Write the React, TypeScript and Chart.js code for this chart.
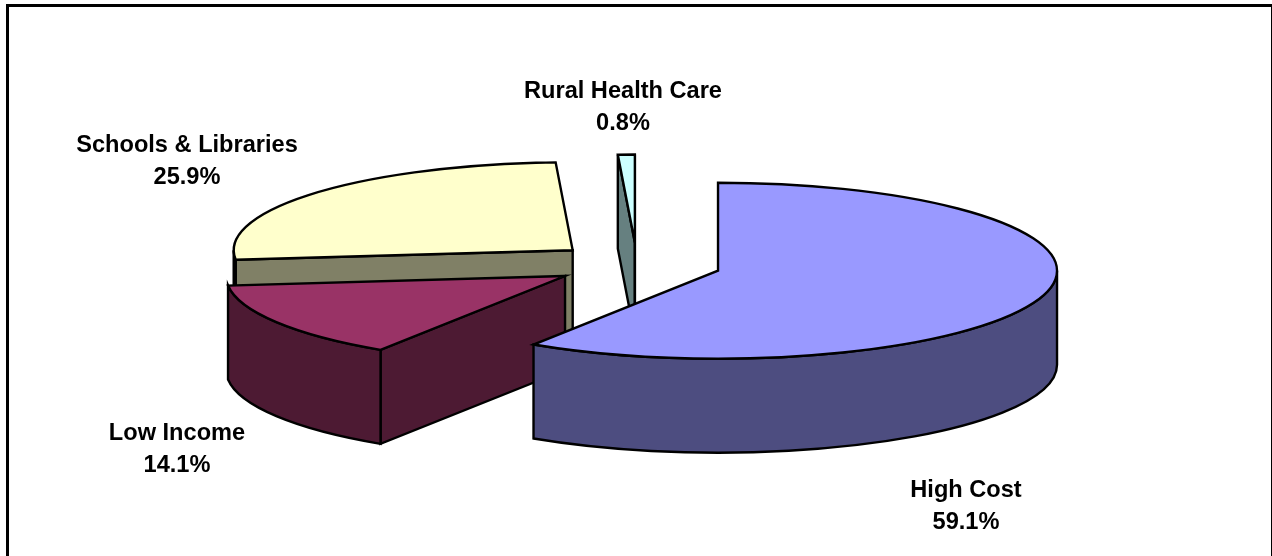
import React, { useEffect, useRef } from "react";
import { Chart, registerables } from "chart.js";

Chart.register(...registerables);

const categories = ["High Cost", "Low Income", "Schools & Libraries", "Rural Health Care"];
const shares = [59.1, 14.1, 25.9, 0.8];
const topColors = ["#9999FF", "#993366", "#FFFFCC", "#CCFFFF"];
const wallColors = ["#4D4D80", "#4D1A33", "#808066", "#668080"];
const paintOrder = [3, 2, 1, 0];
const labelCenters = [
  [966, 490],
  [177, 433],
  [187, 145.5],
  [623, 91],
];

const SLICE_RADIUS = 339;
const EXPLODE = 84.5;
const TILT = 88 / 339;
const DEPTH = 94;
const CENTER_Y = 264.5;
const LINE_WIDTH = 2.4;

const pie3d = {
  id: "pie3d",
  beforeDatasetDraw(chart: any) {
    const ctx: CanvasRenderingContext2D = chart.ctx;
    const arcs = chart.getDatasetMeta(0).data;
    for (const i of paintOrder) {
      const arc = arcs[i];
      const { x, y, startAngle: s, endAngle: e, outerRadius: r } = arc.getProps(
        ["x", "y", "startAngle", "endAngle", "outerRadius"],
        true
      );
      const mid = (s + e) / 2;
      const dx = Math.cos(mid) * EXPLODE;
      const dy = Math.sin(mid) * EXPLODE;
      const cx = x + dx;
      const cy = CENTER_Y + dy * TILT;
      const rx = r;
      const ry = r * TILT;
      const rim = (a: number) => [cx + rx * Math.cos(a), cy + ry * Math.sin(a)];

      ctx.save();
      ctx.lineWidth = LINE_WIDTH;
      ctx.lineJoin = "miter";
      ctx.strokeStyle = "#000";
      ctx.fillStyle = wallColors[i];

      const wall = (a: number) => {
        const [px, py] = rim(a);
        ctx.beginPath();
        ctx.moveTo(cx, cy);
        ctx.lineTo(px, py);
        ctx.lineTo(px, py + DEPTH);
        ctx.lineTo(cx, cy + DEPTH);
        ctx.closePath();
        ctx.fill();
        ctx.stroke();
      };
      if (Math.cos(s) < 0) wall(s);
      if (Math.cos(e) > 0) wall(e);

      const from = Math.max(s, 0);
      const to = Math.min(e, Math.PI);
      if (to > from) {
        const [ax, ay] = rim(from);
        const [bx, by] = rim(to);
        ctx.beginPath();
        ctx.moveTo(ax, ay);
        ctx.ellipse(cx, cy, rx, ry, 0, from, to);
        ctx.lineTo(bx, by + DEPTH);
        ctx.ellipse(cx, cy + DEPTH, rx, ry, 0, to, from, true);
        ctx.closePath();
        ctx.fill();
        ctx.stroke();
      }
      ctx.restore();

      ctx.save();
      ctx.translate(dx, CENTER_Y + dy * TILT);
      ctx.scale(1, TILT);
      ctx.translate(0, -y);
      arc.draw(ctx);
      ctx.restore();

      ctx.save();
      ctx.lineWidth = LINE_WIDTH;
      ctx.strokeStyle = "#000";
      ctx.beginPath();
      ctx.moveTo(cx, cy);
      ctx.ellipse(cx, cy, rx, ry, 0, s, e);
      ctx.closePath();
      ctx.stroke();
      ctx.restore();
    }
    return false;
  },
  afterDraw(chart: any) {
    const ctx: CanvasRenderingContext2D = chart.ctx;
    ctx.save();
    ctx.fillStyle = "#000";
    ctx.font = 'bold 23.6px "Liberation Sans", Arial, sans-serif';
    ctx.textAlign = "center";
    ctx.textBaseline = "middle";
    categories.forEach((name, i) => {
      const [x, y] = labelCenters[i];
      ctx.fillText(name, x, y);
      ctx.fillText(shares[i].toFixed(1) + "%", x, y + 32);
    });
    ctx.restore();
  },
};

export default function App() {
  const ref = useRef<HTMLCanvasElement | null>(null);
  useEffect(() => {
    document.body.style.margin = "0";
    const chart = new Chart(ref.current as HTMLCanvasElement, {
      type: "pie",
      data: {
        labels: categories,
        datasets: [
          {
            data: shares,
            backgroundColor: topColors,
            borderWidth: 0,
            clip: false,
          } as any,
        ],
      },
      options: {
        animation: false,
        responsive: false,
        radius: SLICE_RADIUS,
        events: [],
        layout: { padding: { left: 2, right: 0, top: 0, bottom: 0 } },
        plugins: { legend: { display: false }, tooltip: { enabled: false } },
      } as any,
      plugins: [pie3d],
    });
    return () => chart.destroy();
  }, []);
  return (
    <div style={{ position: "relative", width: 1272, height: 556, background: "#fff", overflow: "hidden" }}>
      <canvas ref={ref} width={1272} height={556} style={{ display: "block" }} />
      <div
        style={{
          position: "absolute",
          left: 6,
          top: 4,
          width: 1262,
          height: 600,
          border: "3px solid #000",
          pointerEvents: "none",
        }}
      />
    </div>
  );
}
